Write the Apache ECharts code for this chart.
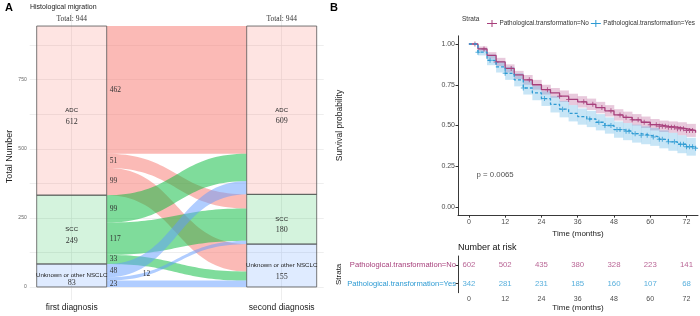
<!DOCTYPE html>
<html>
<head>
<meta charset="utf-8">
<script src="https://cdn.jsdelivr.net/npm/echarts@6/dist/echarts.min.js"></script>
<style>
html,body{margin:0;padding:0;background:#fff}
#chart{width:700px;height:316px}
</style>
</head>
<body>
<div id="chart"></div>
<script>
// ---- panel A : histology at first / second diagnosis
const strata = ['ADC', 'SCC', 'Unknown or other NSCLC'];
const stages = ['first diagnosis', 'second diagnosis'];
// patients going from one type (row) to ADC / SCC / Unknown (columns)
const fromADC = [462, 51, 99];
const fromSCC = [99, 117, 33];
const fromUnk = [48, 12, 23];
const countTicks = [0, 250, 500, 750];
const countGrid = [0, 125, 250, 375, 500, 625, 750, 875];

// ---- panel B : Kaplan-Meier, pathological transformation No / Yes
const months  = [0, 3, 6, 9, 12, 15, 18, 21, 24, 27, 30, 33, 36, 39, 42, 45, 48, 51, 54, 57, 60, 63, 66, 69, 72, 75];
const survNo  = [1.00, .97, .93, .89, .85, .81, .78, .75, .72, .70, .68, .66, .645, .63, .61, .59, .565, .55, .535, .52, .505, .495, .49, .48, .47, .455];
const lowNo   = [1.00, .955, .91, .865, .825, .785, .75, .72, .69, .67, .645, .625, .61, .595, .575, .555, .53, .515, .50, .485, .47, .46, .455, .44, .43, .415];
const upNo    = [1.00, .985, .95, .915, .875, .835, .81, .78, .75, .73, .715, .695, .68, .665, .645, .625, .60, .585, .57, .555, .54, .53, .525, .52, .51, .495];
const survYes = [1.00, .95, .90, .86, .82, .78, .73, .70, .665, .63, .60, .575, .555, .54, .52, .50, .475, .465, .45, .44, .43, .415, .40, .385, .37, .36];
const lowYes  = [1.00, .93, .87, .825, .78, .74, .69, .655, .62, .58, .55, .525, .505, .49, .47, .45, .425, .41, .395, .385, .375, .36, .345, .33, .315, .305];
const upYes   = [1.00, .975, .935, .895, .86, .82, .775, .745, .71, .68, .65, .625, .605, .59, .57, .55, .525, .515, .505, .495, .485, .47, .455, .44, .425, .415];
const censorNo  = [2, 5, 9, 14, 20, 26, 30, 33, 38, 41, 44, 47, 50, 52, 54, 56, 58, 60, 62, 63, 64, 65, 66, 67, 68, 69, 70, 71, 72, 73, 74];
const censorYes = [3, 7, 12, 18, 25, 31, 40, 43, 45, 47, 49, 50, 52, 53, 55, 57, 59, 61, 63, 64, 66, 68, 70, 71, 72, 73, 74, 75];
const riskTimes = [0, 12, 24, 36, 48, 60, 72];
const riskNo  = [602, 502, 435, 380, 328, 223, 141];
const riskYes = [342, 281, 231, 185, 160, 107, 68];
const survTicks = [0, 0.25, 0.5, 0.75, 1];
const pText = 'p = 0.0065';

const nameNo = 'Pathological.transformation=No';
const nameYes = 'Pathological.transformation=Yes';
const colNo = '#a73f7b', colYes = '#2e9bd3';

const flowColors = ['rgba(248,118,109,0.5)', 'rgba(0,186,56,0.5)', 'rgba(97,156,255,0.5)'];
const boxColors = ['rgba(248,118,109,0.2)', 'rgba(0,186,56,0.17)', 'rgba(97,156,255,0.2)'];

// stack the flows: ADC on top, then SCC, then unknown
const matrix = [fromADC, fromSCC, fromUnk];
const total = matrix.flat().reduce((a, b) => a + b, 0);
const rowSum = matrix.map(r => r.reduce((a, b) => a + b, 0));
const colSum = [0, 1, 2].map(j => matrix.reduce((a, r) => a + r[j], 0));
const half = 1 / 6;

function tops(sums) {
  let t = total, out = [];
  sums.forEach(s => { out.push(t); t -= s; });
  return out;
}
const leftTop = tops(rowSum), rightTop = tops(colSum);

const boxData = [];
strata.forEach((s, i) => {
  boxData.push([1, leftTop[i], leftTop[i] - rowSum[i], i, rowSum[i]]);
  boxData.push([2, rightTop[i], rightTop[i] - colSum[i], i, colSum[i]]);
});

const flowData = [];
const rightUsed = [0, 0, 0];
matrix.forEach((row, i) => {
  let lt = leftTop[i];
  row.forEach((v, j) => {
    const rt = rightTop[j] - rightUsed[j];
    rightUsed[j] += v;
    flowData.push([1 + half, lt, lt - v, 2 - half, rt, rt - v, i, v]);
    lt -= v;
  });
});
// flow 2nd of unknown row is too thin, its label was pushed aside
const labelNudge = {7: [33, -5]};

function bez(p0, p3, t) {
  const mx = (p0[0] + p3[0]) / 2;
  const u = 1 - t;
  return [
    u*u*u*p0[0] + 3*u*u*t*mx + 3*u*t*t*mx + t*t*t*p3[0],
    u*u*u*p0[1] + 3*u*u*t*p0[1] + 3*u*t*t*p3[1] + t*t*t*p3[1]
  ];
}

function renderFlow(params, api) {
  const a = api.coord([api.value(0), api.value(1)]);
  const b = api.coord([api.value(0), api.value(2)]);
  const c = api.coord([api.value(3), api.value(4)]);
  const d = api.coord([api.value(3), api.value(5)]);
  const pts = [];
  for (let k = 0; k <= 40; k++) pts.push(bez(a, c, k / 40));
  for (let k = 40; k >= 0; k--) pts.push(bez(b, d, k / 40));
  const nudge = labelNudge[params.dataIndex] || [0, 0];
  return {
    type: 'group',
    children: [
      {type: 'polygon', shape: {points: pts}, style: {fill: flowColors[api.value(6)]}},
      {type: 'text', style: {
        text: String(api.value(7)), x: a[0] + 3 + nudge[0], y: (a[1] + b[1]) / 2 + nudge[1],
        fontFamily: 'Liberation Serif', fontSize: 7.5, fill: '#333',
        align: 'left', verticalAlign: 'middle'}, z2: 10}
    ]
  };
}

function renderBox(params, api) {
  const x = api.value(0);
  const p0 = api.coord([x - half, api.value(1)]);
  const p1 = api.coord([x + half, api.value(2)]);
  const i = api.value(3);
  const cx = (p0[0] + p1[0]) / 2, cy = (p0[1] + p1[1]) / 2;
  const small = (p1[1] - p0[1]) < 30;
  const children = [
    {type: 'rect', shape: {x: p0[0], y: p0[1], width: p1[0] - p0[0], height: p1[1] - p0[1]},
     style: {fill: boxColors[i], stroke: '#555', lineWidth: 0.8}},
    {type: 'text', style: {text: strata[i], x: cx, y: cy, fontFamily: 'Liberation Sans',
      fontSize: i === 2 ? 6.2 : 6, fill: '#222', align: 'center', verticalAlign: 'middle'}},
    {type: 'text', style: {text: String(api.value(4)), x: cx, y: cy + (small ? 7.5 : 11),
      fontFamily: 'Liberation Serif', fontSize: 8, fill: '#333', align: 'center', verticalAlign: 'middle'}}
  ];
  if (i === 0) {
    children.push({type: 'text', style: {text: 'Total: ' + total, x: cx, y: p0[1] - 7.5,
      fontFamily: 'Liberation Serif', fontSize: 7.5, fill: '#333', align: 'center', verticalAlign: 'middle'}});
  }
  return {type: 'group', children: children};
}

// confidence band: one rectangle per step of the curve
function bandData(lo, up) {
  const out = [];
  for (let k = 0; k + 1 < months.length; k++) out.push([months[k], months[k + 1], lo[k], up[k]]);
  return out;
}
function bandRender(color) {
  return function (params, api) {
    const p0 = api.coord([api.value(0), api.value(3)]);
    const p1 = api.coord([api.value(1), api.value(2)]);
    return {type: 'rect', shape: {x: p0[0], y: p0[1], width: p1[0] - p0[0] + 0.3, height: p1[1] - p0[1]},
            style: {fill: color}};
  };
}

const zip = (xs, ys) => xs.map((x, k) => [x, ys[k]]);
function stepAt(ts, ss, t) {
  let k = 0;
  while (k + 1 < ts.length && ts[k + 1] <= t) k++;
  return ss[k];
}
const plus = 'path://M0,2h5v1h-5z M2,0h1v5h-1z';

const chart = echarts.init(document.getElementById('chart'), null, {renderer: 'canvas'});
chart.setOption({
  animation: false,
  backgroundColor: '#fff',
  textStyle: {fontFamily: 'Liberation Sans'},
  grid: [
    {left: 29.7, top: 13, width: 294, height: 287, outerBoundsMode: 'none'},
    {left: 458, top: 35.85, width: 240, height: 179.3, outerBoundsMode: 'none'},
    {left: 458, top: 256, width: 240, height: 36.7, outerBoundsMode: 'none'}
  ],
  xAxis: [
    {type: 'value', gridIndex: 0, min: 0.8, max: 2.2,
     axisLine: {show: false}, axisTick: {show: false, customValues: [1, 2]},
     axisLabel: {customValues: [1, 2], formatter: v => stages[Math.round(v) - 1], fontSize: 8.5, color: '#222', margin: 3},
     splitLine: {show: true, lineStyle: {color: '#e6e6e6', width: 0.7}}},
    {type: 'value', gridIndex: 1, min: -3.6, max: 75.8,
     axisLine: {onZero: false, lineStyle: {color: '#222', width: 0.9}},
     axisTick: {customValues: riskTimes, length: 2.5, lineStyle: {color: '#333'}},
     axisLabel: {customValues: riskTimes, fontSize: 7, color: '#4d4d4d', margin: 3},
     splitLine: {show: false},
     name: 'Time (months)', nameLocation: 'middle', nameGap: 11, nameTextStyle: {fontSize: 8, color: '#222'}},
    {type: 'value', gridIndex: 2, min: -3.6, max: 75.8,
     axisLine: {onZero: false, lineStyle: {color: '#222', width: 0.9}},
     axisTick: {customValues: riskTimes, length: 2.5, lineStyle: {color: '#333'}},
     axisLabel: {customValues: riskTimes, fontSize: 7, color: '#4d4d4d', margin: 3},
     splitLine: {show: false},
     name: 'Time (months)', nameLocation: 'middle', nameGap: 10, nameTextStyle: {fontSize: 8, color: '#222'}}
  ],
  yAxis: [
    {type: 'value', gridIndex: 0, min: -47.2, max: 991.2,
     axisLine: {show: false}, axisTick: {show: false, customValues: countGrid},
     axisLabel: {customValues: countTicks, fontSize: 5, color: '#666', margin: 3},
     splitLine: {show: true, lineStyle: {color: '#e6e6e6', width: 0.7}},
     name: 'Total Number', nameLocation: 'middle', nameGap: 5, nameTextStyle: {fontSize: 9, color: '#222'}},
    {type: 'value', gridIndex: 1, min: -0.05, max: 1.05,
     axisLine: {show: true, onZero: false, lineStyle: {color: '#222', width: 0.9}},
     axisTick: {show: true, customValues: survTicks, length: 2.5, lineStyle: {color: '#333'}},
     axisLabel: {customValues: survTicks, formatter: v => v.toFixed(2), fontSize: 7, color: '#4d4d4d', margin: 3},
     splitLine: {show: false},
     name: 'Survival probability', nameLocation: 'middle', nameGap: 114, nameTextStyle: {fontSize: 8.5, color: '#222'}},
    {type: 'category', gridIndex: 2, data: [nameYes, nameNo],
     axisLine: {show: true, onZero: false, lineStyle: {color: '#222', width: 0.9}},
     axisTick: {show: true, alignWithLabel: true, length: 2.5, lineStyle: {color: '#333'}},
     axisLabel: {fontSize: 7.6, margin: 2, color: v => (v === nameNo ? colNo : colYes)},
     splitLine: {show: false},
     name: 'Strata', nameLocation: 'middle', nameGap: 114, nameTextStyle: {fontSize: 8, color: '#222'}}
  ],
  legend: {
    orient: 'horizontal', left: 482, top: 15, width: 240, itemWidth: 11, itemHeight: 7, itemGap: 2,
    icon: 'path://M0,3h10v1h-10z M4.5,0h1v7h-1z',
    textStyle: {fontSize: 6.4, color: '#333', padding: [0, 0, 0, -3]},
    data: [nameNo, nameYes]
  },
  graphic: [
    {type: 'text', left: 5, top: 2, style: {text: 'A', fontSize: 11, fontWeight: 'bold', fill: '#000', fontFamily: 'Liberation Sans'}},
    {type: 'text', left: 30, top: 4, style: {text: 'Histological migration', fontSize: 7, fill: '#222', fontFamily: 'Liberation Sans'}},
    {type: 'text', left: 330, top: 2, style: {text: 'B', fontSize: 11, fontWeight: 'bold', fill: '#000', fontFamily: 'Liberation Sans'}},
    {type: 'text', left: 462, top: 16, style: {text: 'Strata', fontSize: 6.5, fill: '#333', fontFamily: 'Liberation Sans'}},
    {type: 'text', left: 458, top: 243, style: {text: 'Number at risk', fontSize: 9, fill: '#111', fontFamily: 'Liberation Sans'}}
  ],
  series: [
    {type: 'custom', name: 'flows', xAxisIndex: 0, yAxisIndex: 0, renderItem: renderFlow, data: flowData, z: 2},
    {type: 'custom', name: 'strata', xAxisIndex: 0, yAxisIndex: 0, renderItem: renderBox, data: boxData, z: 3},

    {type: 'custom', name: 'ciNo', xAxisIndex: 1, yAxisIndex: 1, silent: true,
     renderItem: bandRender('rgba(178,76,140,0.3)'), data: bandData(lowNo, upNo)},
    {type: 'custom', name: 'ciYes', xAxisIndex: 1, yAxisIndex: 1, silent: true,
     renderItem: bandRender('rgba(94,180,230,0.35)'), data: bandData(lowYes, upYes)},

    {type: 'line', name: nameNo, xAxisIndex: 1, yAxisIndex: 1, step: 'end', showSymbol: false,
     color: colNo, lineStyle: {width: 1.3, color: colNo}, data: zip(months, survNo)},
    {type: 'line', name: nameYes, xAxisIndex: 1, yAxisIndex: 1, step: 'end', showSymbol: false,
     color: colYes, lineStyle: {width: 1.3, color: colYes, type: [3, 2]}, data: zip(months, survYes)},
    {type: 'scatter', name: 'censorNo', xAxisIndex: 1, yAxisIndex: 1, symbol: plus, symbolSize: 5,
     itemStyle: {color: colNo}, data: censorNo.map(t => [t, stepAt(months, survNo, t)])},
    {type: 'scatter', name: 'censorYes', xAxisIndex: 1, yAxisIndex: 1, symbol: plus, symbolSize: 5,
     itemStyle: {color: colYes}, data: censorYes.map(t => [t, stepAt(months, survYes, t)])},
    {type: 'scatter', name: 'pval', xAxisIndex: 1, yAxisIndex: 1, symbolSize: 1, itemStyle: {color: 'rgba(0,0,0,0)'},
     label: {show: true, position: 'inside', align: 'left', formatter: pText, fontSize: 7.8, color: '#222'},
     data: [[2.55, 0.2]]},

    {type: 'scatter', name: 'riskNo', xAxisIndex: 2, yAxisIndex: 2, symbolSize: 1, itemStyle: {color: 'rgba(0,0,0,0)'},
     label: {show: true, position: 'inside', formatter: p => String(p.value[2]), fontSize: 7.8, color: colNo},
     data: riskTimes.map((t, k) => [t, 1, riskNo[k]])},
    {type: 'scatter', name: 'riskYes', xAxisIndex: 2, yAxisIndex: 2, symbolSize: 1, itemStyle: {color: 'rgba(0,0,0,0)'},
     label: {show: true, position: 'inside', formatter: p => String(p.value[2]), fontSize: 7.8, color: colYes},
     data: riskTimes.map((t, k) => [t, 0, riskYes[k]])}
  ]
});
</script>
</body>
</html>
